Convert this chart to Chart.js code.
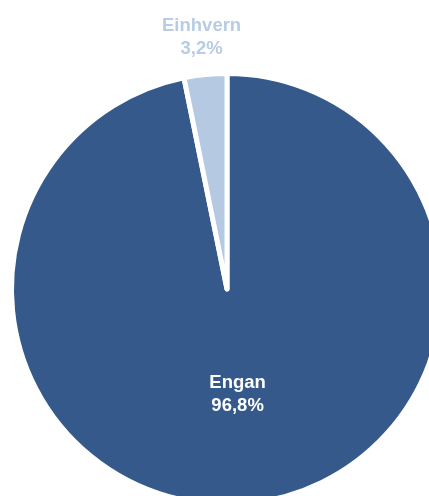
<!DOCTYPE html>
<html>
<head>
<meta charset="utf-8">
<script src="https://cdn.jsdelivr.net/npm/chart.js@4"></script>
<style>
  html, body { margin: 0; padding: 0; background: #fff; overflow: hidden; }
  #wrap { position: absolute; left: 0; top: 0; }
</style>
</head>
<body>
<div id="wrap"><canvas id="myChart" width="460" height="540"></canvas></div>
<script>
const ctx = document.getElementById("myChart");

const categories = ["Engan", "Einhvern"];
const shares = [96.8, 3.2];
const sliceColors = ["#34598a", "#b5c9e2"];
const labelColors = ["#ffffff", "#b8cce4"];
// how far out each label sits, as a fraction of the radius
const labelDistance = [0.49, 1.175];

const formatShare = (v) => v.toFixed(1).replace(".", ",") + "%";

/*draws the two-line labels, since there is no datalabels plugin here*/
const sliceLabels = {
    id: "sliceLabels",
    afterDatasetsDraw(chart) {
        const c = chart.ctx;
        const meta = chart.getDatasetMeta(0);
        c.save();
        c.font = "bold 18.5px 'Liberation Sans', Arial, sans-serif";
        c.textAlign = "center";
        c.textBaseline = "middle";
        meta.data.forEach((arc, i) => {
            const p = arc.getProps(["x", "y", "startAngle", "endAngle", "outerRadius"], true);
            const mid = (p.startAngle + p.endAngle) / 2;
            const r = p.outerRadius * labelDistance[i];
            const x = p.x + Math.cos(mid) * r;
            const y = p.y + Math.sin(mid) * r;
            c.fillStyle = labelColors[i];
            c.fillText(categories[i], x, y - 11.5);
            c.fillText(formatShare(shares[i]), x, y + 11.5);
        });
        c.restore();
    }
};

var pieChart = new Chart(ctx, {
    type: "pie",
    data: {
        labels: categories,
        datasets: [
            {
                data: shares,
                backgroundColor: sliceColors,
                borderColor: "#ffffff",
                borderWidth: 5,
                borderJoinStyle: "round"
            }
        ]
    },
    options: {
        responsive: false,
        animation: false,
        radius: 215.5,
        layout: {
            padding: { left: 0, right: 6, top: 60, bottom: 22 }
        },
        plugins: {
            legend: { display: false },
            tooltip: { enabled: false }
        }
    },
    plugins: [sliceLabels]
});
</script>
</body>
</html>
